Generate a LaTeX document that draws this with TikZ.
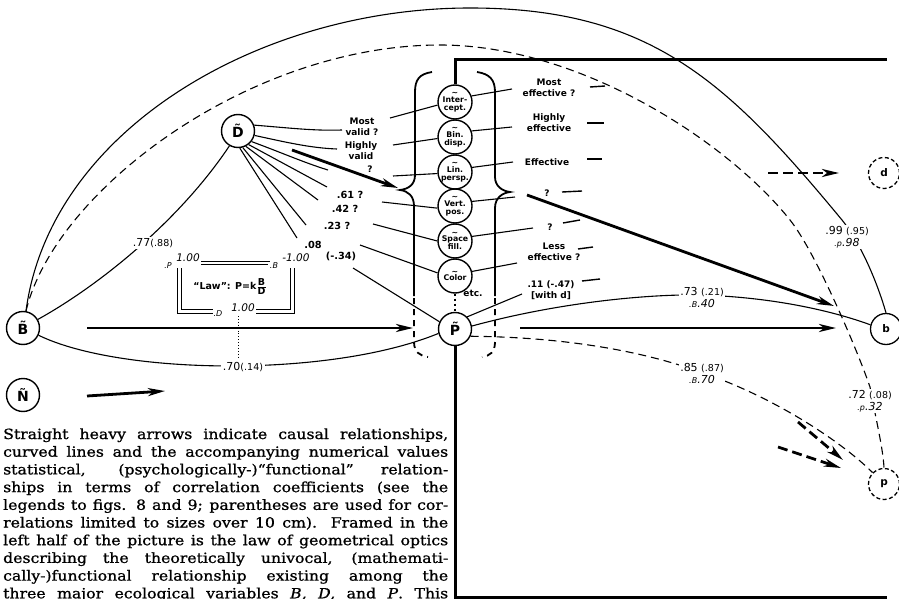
\documentclass[tikz,border=0pt]{standalone}
\usepackage{fontspec}
\setmainfont{DejaVu Serif}[FakeStretch=1.12,FakeBold=1]
\newfontfamily\lab{DejaVu Sans}
\usetikzlibrary{arrows.meta}
\newcommand\varfont{\lab\bfseries\fontsize{14}{14}\selectfont}
\newcommand\lvfont{\lab\bfseries\fontsize{10.5}{10.5}\selectfont}
\newcommand\cuefont{\lab\bfseries\fontsize{7.8}{8}\selectfont}
\newcommand\wordfont{\lab\bfseries\fontsize{9}{11}\selectfont}
\newcommand\numfont{\lab\fontsize{11}{12}\selectfont}
\newcommand\qfont{\lab\bfseries\fontsize{9.8}{10}\selectfont}
\newcommand\lawfont{\lab\bfseries\fontsize{9.5}{9.5}\selectfont}
\newcommand\itl[2]{{\itshape{\fontsize{8}{8}\selectfont.#1}#2}}
\newcommand\pl[1]{{\fontsize{9.5}{9.5}\selectfont(#1)}}
\newcommand\smit[1]{{\lab\itshape\fontsize{8}{8}\selectfont #1}}
\newcommand\bigit[1]{{\lab\itshape\fontsize{10.5}{10.5}\selectfont #1}}
\begin{document}
\begin{tikzpicture}[x=1pt,y=-1pt,
 var/.style={circle,draw,line width=1.4pt,minimum size=33pt,inner sep=0pt,font=\varfont},
 cue/.style={circle,draw,line width=1.4pt,minimum size=34pt,inner sep=0pt,align=center,font=\cuefont},
 lvar/.style={circle,draw,line width=1.3pt,minimum size=31pt,inner sep=0pt,font=\lvfont},
 dvar/.style={lvar,dash pattern=on 4pt off 2.5pt},
 thin/.style={line width=1.1pt},
 thindash/.style={line width=1.1pt,dash pattern=on 8pt off 5pt},
 heavy/.style={line width=2.8pt,-{Stealth[length=17pt,width=8pt,inset=5pt]}},
 heavydash/.style={heavy,dash pattern=on 10pt off 5pt},
 frame/.style={line width=3pt},
 brace/.style={line width=1.8pt},
 bracedash/.style={line width=1.8pt,dash pattern=on 6pt off 5pt},
 word/.style={font=\wordfont,align=center,inner sep=1pt},
 num/.style={font=\numfont,align=center,inner sep=1.5pt,fill=white},
 qlab/.style={font=\qfont,inner sep=1pt},
 tick/.style={line width=1.4pt},
 law/.style={line width=1pt},
 para/.style={anchor=base west,inner sep=0pt,font=\fontsize{14}{17.7}\selectfont},
]
\useasboundingbox (0,0) rectangle (899,599);

% ---------- variables ----------
\node[var] (B) at (23,328) {\~{B}};
\node[var] (N) at (23,395) {\~{N}};
\node[var] (D) at (238,131) {\~{D}};
\node[var] (P) at (455,329) {\~{P}};
\node[cue] (ic) at (455,102) {\textasciitilde\\[-1.5pt]Inter-\\cept.};
\node[cue] (bd) at (455,137) {\textasciitilde\\[-1.5pt]Bin.\\disp.};
\node[cue] (lp) at (455,172) {\textasciitilde\\[-1.5pt]Lin.\\persp.};
\node[cue] (vp) at (455,206) {\textasciitilde\\[-1.5pt]Vert.\\pos.};
\node[cue] (sf) at (455,241) {\textasciitilde\\[-1.5pt]Space\\fill.};
\node[cue] (co) at (455,276) {\textasciitilde\\[-1.5pt]Color};
\node[lvar] (b) at (886,329) {b};
\node[dvar] (d) at (884,173) {d};
\node[dvar] (p) at (884,484) {p};

% ---------- frame ----------
\draw[frame] (ic.north) -- (455,60) -- (887,60);
\draw[frame] (P.south) -- (455,597) -- (887,597);
\draw[line width=2.5pt,dash pattern=on 2.5pt off 2.5pt] (co.south) -- (P.north);

% ---------- braces ----------
\draw[brace] (432,72) .. controls (419,74) and (415,80) .. (415,92) -- (415,175)
  .. controls (415,185) and (408,189) .. (400,190) .. controls (408,191) and (414,196) .. (414,206) -- (414,296);
\draw[bracedash] (414,298) -- (414,342) .. controls (414,352) and (420,356) .. (428,357);
\draw[brace] (477,72) .. controls (490,74) and (495,80) .. (495,92) -- (495,177)
  .. controls (495,186) and (502,191) .. (510,192) .. controls (502,193) and (495,198) .. (495,208) -- (495,296);
\draw[bracedash] (495,298) -- (495,342) .. controls (495,352) and (490,356) .. (482,357);

% ---------- big arcs ----------
\draw[thin] (B.80) .. controls (50,130) and (260,8) .. (470,8)
  .. controls (650,8) and (727,81) .. (842,220) .. controls (862,245) and (878,285) .. (b.north);
\draw[thindash] (B.80) .. controls (55,190) and (250,45) .. (440,45)
  .. controls (580,45) and (728,142) .. (790,220) .. controls (815,251) and (857,349) .. (870,387)
  .. controls (876,420) and (883,448) .. (p.north);
\draw[thin] (B.30) .. controls (100,285) and (180,220) .. (D.-120);
\draw[thin] (B.-25) .. controls (120,375) and (330,378) .. (P.195);
\draw[thin] (P.10) .. controls (560,302) and (650,294) .. (700,295)
  .. controls (770,297) and (830,310) .. (b.165);
\draw[thindash] (P.-25) .. controls (560,337) and (640,350) .. (700,372)
  .. controls (770,395) and (840,440) .. (p.135);

% ---------- heavy arrows ----------
\coordinate (bp1) at (87,328); \coordinate (bp2) at (413,328);
\coordinate (n1) at (87,396); \coordinate (n2) at (165,391);
\coordinate (d1) at (292,150); \coordinate (d2) at (398,188);
\coordinate (c1) at (527,195); \coordinate (c2) at (834,306);
\coordinate (pb1) at (520,328); \coordinate (pb2) at (836,328);
\coordinate (dd1) at (768,173); \coordinate (dd2) at (839,173);
\coordinate (pp1) at (798,422); \coordinate (pp2) at (843,460);
\coordinate (pp3) at (778,447); \coordinate (pp4) at (841,468);
\draw[heavy] (bp1) -- (bp2);
\draw[heavy] (n1) -- (n2);
\draw[heavy] (d1) -- (d2);
\draw[heavy] (c1) -- (c2);
\draw[heavy] (pb1) -- (pb2);
\draw[heavydash] (dd1) -- (dd2);
\draw[heavydash] (pp1) -- (pp2);
\draw[heavydash] (pp3) -- (pp4);

% ---------- D fan ----------
\coordinate (e1) at (342,130); \coordinate (e2) at (337,149); \coordinate (e3) at (328,170);
\coordinate (e4) at (327,187); \coordinate (e5) at (318,200); \coordinate (e6) at (306,225);
\coordinate (e7) at (297,238);
\draw[thin] (D.20) .. controls (290,128) and (315,131) .. (e1);
\draw[thin] (D.-15) .. controls (285,142) and (310,148) .. (e2);
\draw[thin] (D.-38) .. controls (280,152) and (305,163) .. (e3);
\draw[thin] (D.-52) -- (e4);
\draw[thin] (D.-63) -- (e5);
\draw[thin] (D.-74) -- (e6);
\draw[thin] (D.-84) -- (e7);

% ---------- left labels ----------
\node[word] (mv) at (362,127) {Most\\valid ?};
\node[word] (hv) at (361,151) {Highly\\valid};
\node[word] (q3) at (370,169) {?};
\node[qlab] (v61) at (350,195) {.61 ?};
\node[qlab] (v42) at (345,209) {.42 ?};
\node[qlab] (v23) at (337,226) {.23 ?};
\node[qlab] (v08) at (313,245) {.08};
\node[qlab] (v34) at (341,256) {(-.34)};
\coordinate (f1) at (390,118); \coordinate (f2) at (393,145); \coordinate (f3) at (393,176);
\coordinate (f4) at (382,202); \coordinate (f5) at (373,224); \coordinate (f6) at (360,245);
\coordinate (f7) at (353,268);
\draw[thin] (f1) -- (ic.190);
\draw[thin] (f2) -- (bd.185);
\draw[thin] (f3) -- (lp.185);
\draw[thin] (f4) -- (vp.187);
\draw[thin] (f5) -- (sf.180);
\draw[thin] (f6) -- (co.170);
\draw[thin] (f7) -- (P.155);

% ---------- right labels ----------
\node[word] (me) at (549,88) {Most\\effective ?};
\node[word] (he) at (549,123) {Highly\\effective};
\node[word] (ef) at (547,162) {Effective};
\node[word] (q4) at (547,193) {?};
\node[word] (q5) at (550,227) {?};
\node[word] (le) at (554,252) {Less\\effective ?};
\node[word] (v11) at (551,290) {.11 (-.47)\\{[}with d{]}};
\node[word] (etc) at (473,293) {etc.};
\coordinate (g1) at (512,89); \coordinate (g2) at (512,127); \coordinate (g3) at (513,162);
\coordinate (g4) at (515,197); \coordinate (g5) at (533,228); \coordinate (g6) at (517,263);
\coordinate (g7) at (522,294);
\draw[thin] (ic.20) -- (g1);
\draw[thin] (bd.20) -- (g2);
\draw[thin] (lp.15) -- (g3);
\draw[thin] (vp.15) -- (g4);
\draw[thin] (sf.15) -- (g5);
\draw[thin] (co.15) -- (g6);
\draw[thin] (P.45) -- (g7);
\draw[tick] (590,87) -- (605,86);
\draw[tick] (587,123) -- (604,123);
\draw[tick] (587,159) -- (602,159);
\draw[tick] (562,192) -- (582,191);
\draw[tick] (563,223) -- (580,220);
\draw[tick] (578,249) -- (593,247);
\draw[tick] (582,281) -- (600,279);

% ---------- law box ----------
\draw[law] (201,261) -- (270,261);
\draw[law] (201,264.5) -- (268,264.5);
\draw[law] (177,268) -- (177,313) -- (213,313);
\draw[law] (181,268) -- (181,309) -- (213,309);
\draw[law] (294,268) -- (294,313) -- (256,313);
\draw[law] (290,268) -- (290,309) -- (256,309);
\node[inner sep=0pt] (lP) at (168,266) {\smit{.P}};
\node[inner sep=0pt] (lP1) at (188,258) {\bigit{1.00}};
\node[inner sep=0pt] (lB) at (274,266) {\smit{.B}};
\node[inner sep=0pt] (lB1) at (296,258) {\bigit{-1.00}};
\node[inner sep=0pt] (lD) at (218,314) {\smit{.D}};
\node[inner sep=0pt] (lD1) at (243,308) {\bigit{1.00}};
\node[font=\lawfont,inner sep=0pt] (law) at (230,287) {\textquotedblleft Law\textquotedblright: P=k$\frac{\mbox{B}}{\mbox{D}}$};
\coordinate (ld1) at (238,316); \coordinate (ld2) at (238,358);
\draw[line width=0.9pt,dotted] (ld1) -- (ld2);

% ---------- correlation labels ----------
\node[num] (l77) at (153,243) {.77\pl{.88}};
\node[num] (l70) at (243,367) {.70\pl{.14}};
\node[num] (l99) at (847,237) {.99 \pl{.95}\\\itl{p}{.98}};
\node[num] (l72) at (870,401) {.72 \pl{.08}\\\itl{p}{.32}};
\node[num] (l73) at (702,297) {.73 \pl{.21}\\\itl{B}{.40}};
\node[num] (l85) at (702,373) {.85 \pl{.87}\\\itl{B}{.70}};

% ---------- caption ----------
\node[para] (t1) at (3,439) {\makebox[445pt][s]{Straight heavy arrows indicate causal relationships,}};
\node[para] (t2) at (3,456.7) {\makebox[445pt][s]{curved lines and the accompanying numerical values}};
\node[para] (t3) at (3,474.4) {\makebox[445pt][s]{statistical, (psychologically-)“functional” relation-}};
\node[para] (t4) at (3,492.1) {\makebox[445pt][s]{ships in terms of correlation coefficients (see the}};
\node[para] (t5) at (3,509.8) {\makebox[445pt][s]{legends to figs. 8 and 9; parentheses are used for cor-}};
\node[para] (t6) at (3,527.5) {\makebox[445pt][s]{relations limited to sizes over 10 cm). Framed in the}};
\node[para] (t7) at (3,545.2) {\makebox[445pt][s]{left half of the picture is the law of geometrical optics}};
\node[para] (t8) at (3,562.9) {\makebox[445pt][s]{describing the theoretically univocal, (mathemati-}};
\node[para] (t9) at (3,580.6) {\makebox[445pt][s]{cally-)functional relationship existing among the}};
\node[para] (t10) at (3,598.3) {\makebox[445pt][s]{three major ecological variables \textit{B, D,} and \textit{P}. This}};
\end{tikzpicture}
\end{document}
